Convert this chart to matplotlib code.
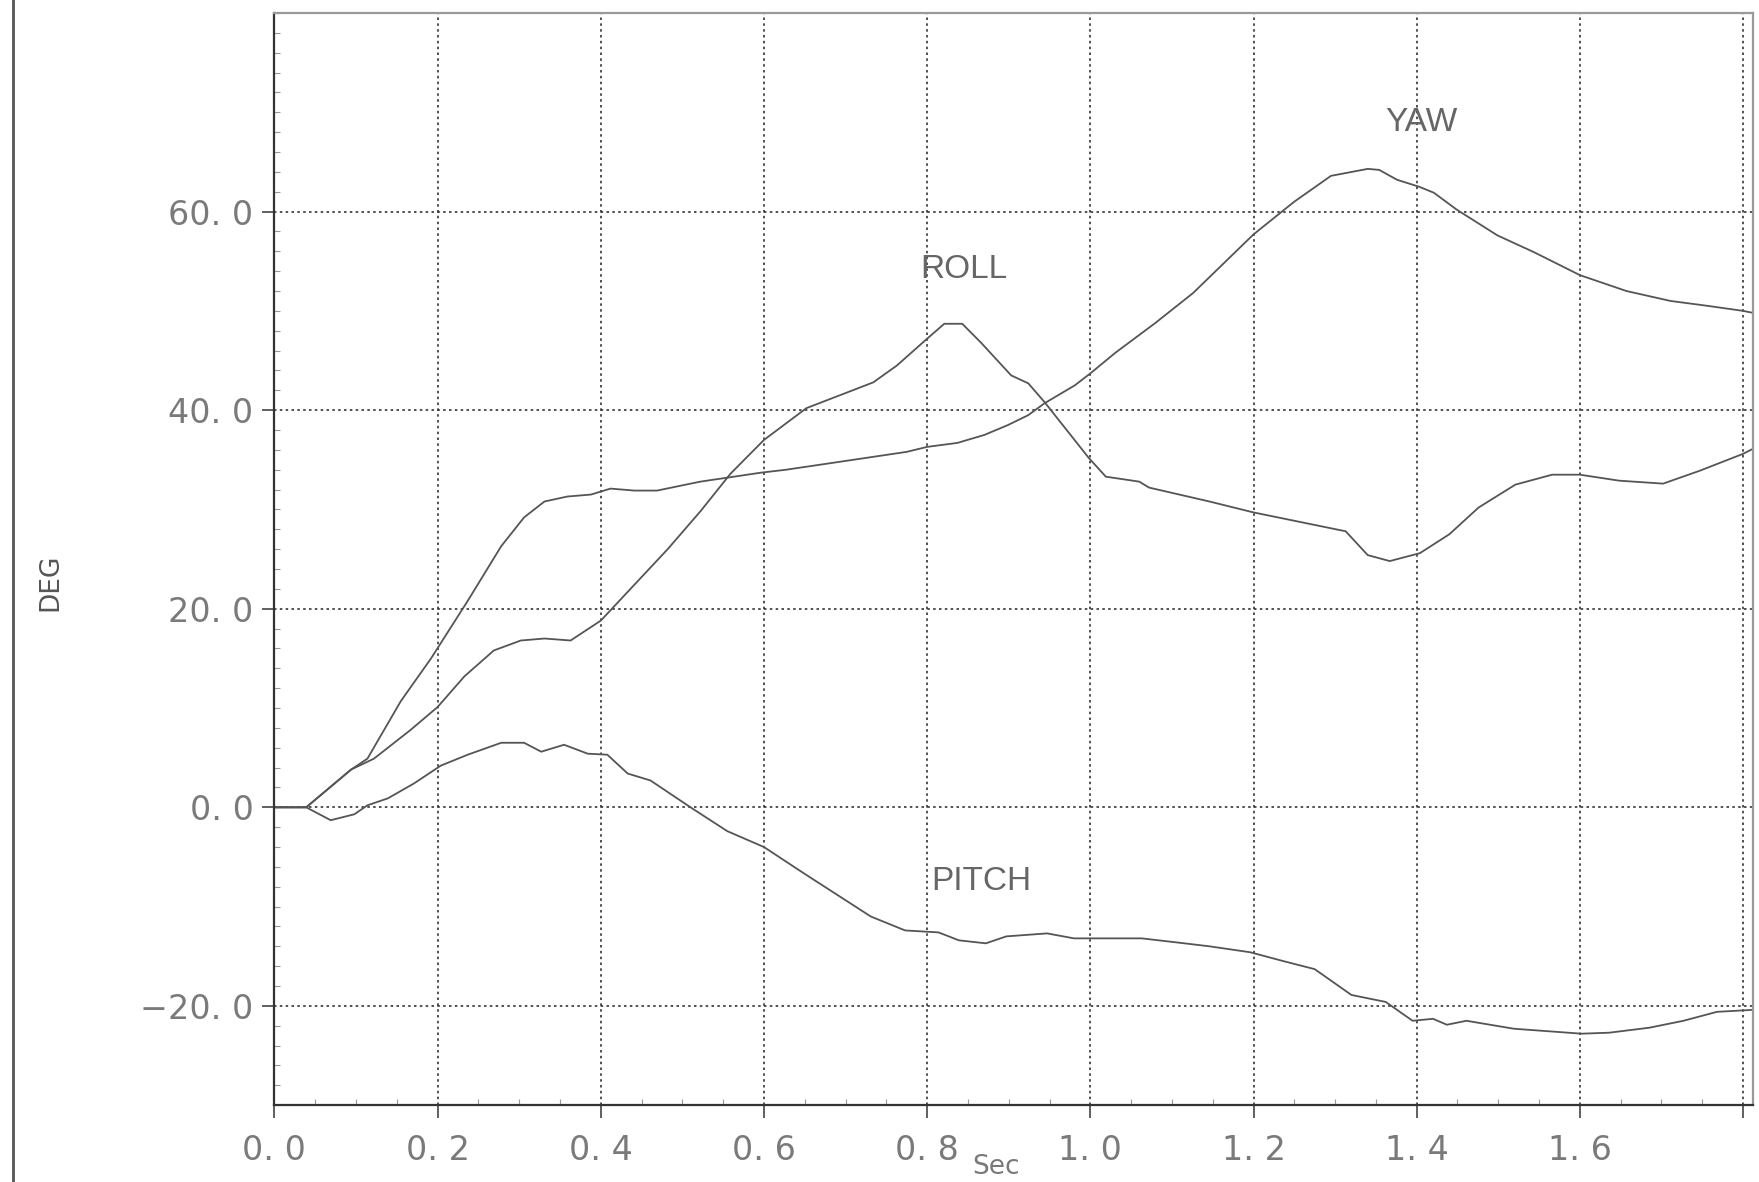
import matplotlib
matplotlib.use("Agg")
import matplotlib.pyplot as plt
from matplotlib.lines import Line2D
from matplotlib.ticker import FixedLocator, FixedFormatter, MultipleLocator

# time (s) and angle (deg)
yaw_t = [0, 0.039, 0.094, 0.114, 0.155, 0.192, 0.237, 0.278, 0.306, 0.331, 0.359, 0.388,
         0.412, 0.441, 0.469, 0.522, 0.555, 0.596, 0.627, 0.693, 0.775, 0.8, 0.837, 0.870,
         0.899, 0.924, 0.944, 0.981, 1.0, 1.031, 1.080, 1.126, 1.2, 1.25, 1.295, 1.340,
         1.354, 1.376, 1.403, 1.421, 1.449, 1.499, 1.544, 1.6, 1.657, 1.711, 1.757, 1.8, 1.812]
yaw_deg = [0, 0, 3.8, 4.9, 10.7, 15.0, 20.8, 26.3, 29.2, 30.8, 31.3, 31.5,
           32.1, 31.9, 31.9, 32.8, 33.2, 33.7, 34.0, 34.8, 35.8, 36.3, 36.7, 37.5,
           38.5, 39.5, 40.7, 42.5, 43.7, 45.8, 48.8, 51.8, 57.7, 61.0, 63.6, 64.3,
           64.2, 63.2, 62.5, 61.9, 60.2, 57.6, 55.9, 53.6, 52.0, 51.0, 50.5, 50.0, 49.8]

roll_t = [0, 0.039, 0.094, 0.122, 0.167, 0.2, 0.233, 0.269, 0.302, 0.331, 0.363, 0.4,
          0.441, 0.482, 0.522, 0.559, 0.6, 0.652, 0.693, 0.734, 0.763, 0.8, 0.821, 0.843,
          0.866, 0.903, 0.924, 0.944, 0.998, 1.019, 1.060, 1.072, 1.146, 1.2, 1.313, 1.340,
          1.367, 1.404, 1.440, 1.476, 1.521, 1.566, 1.6, 1.648, 1.702, 1.747, 1.8, 1.812]
roll_deg = [0, 0, 3.8, 4.9, 7.8, 10.1, 13.2, 15.8, 16.8, 17.0, 16.8, 18.8,
            22.4, 26.0, 29.8, 33.6, 37.0, 40.2, 41.5, 42.8, 44.5, 47.2, 48.7, 48.7,
            46.8, 43.5, 42.7, 40.8, 35.2, 33.3, 32.8, 32.2, 30.8, 29.7, 27.8, 25.4,
            24.8, 25.6, 27.5, 30.2, 32.5, 33.5, 33.5, 32.9, 32.6, 33.9, 35.6, 36.1]

pitch_t = [0, 0.039, 0.069, 0.098, 0.114, 0.139, 0.171, 0.204, 0.237, 0.278, 0.306, 0.327,
           0.355, 0.384, 0.408, 0.433, 0.461, 0.51, 0.555, 0.6, 0.648, 0.731, 0.773, 0.814,
           0.839, 0.872, 0.897, 0.947, 0.98, 1.063, 1.105, 1.146, 1.196, 1.237, 1.275, 1.32,
           1.362, 1.395, 1.42, 1.437, 1.461, 1.519, 1.602, 1.636, 1.685, 1.727, 1.768, 1.812]
pitch_deg = [0, 0, -1.3, -0.7, 0.2, 0.9, 2.4, 4.2, 5.3, 6.5, 6.5, 5.6,
             6.3, 5.4, 5.3, 3.4, 2.7, 0, -2.4, -4.0, -6.6, -11.0, -12.4, -12.6,
             -13.4, -13.7, -13.0, -12.7, -13.2, -13.2, -13.6, -14.0, -14.6, -15.5, -16.3, -18.9,
             -19.6, -21.5, -21.3, -21.9, -21.5, -22.3, -22.8, -22.7, -22.2, -21.5, -20.6, -20.4]

x_ticks = [0.0, 0.2, 0.4, 0.6, 0.8, 1.0, 1.2, 1.4, 1.6, 1.8]
x_labels = ["0. 0", "0. 2", "0. 4", "0. 6", "0. 8", "1. 0", "1. 2", "1. 4", "1. 6", ""]
y_ticks = [-20, 0, 20, 40, 60]
y_labels = ["\u221220. 0", "0. 0", "20. 0", "40. 0", "60. 0"]

curve_labels = [("YAW", 1.406, 69.0), ("ROLL", 0.845, 54.2), ("PITCH", 0.866, -7.5)]

LINE = "#555555"
TEXT = "#7a7a7a"

fig = plt.figure(figsize=(17.59, 11.82), dpi=100)
ax = fig.add_axes([0.156, 0.065, 0.8405, 0.924])

for t, v in [(yaw_t, yaw_deg), (roll_t, roll_deg), (pitch_t, pitch_deg)]:
    ax.plot(t, v, color=LINE, linewidth=1.3)

for name, x, y in curve_labels:
    ax.text(x, y, name, ha="center", va="center", fontsize=24, color="#666666",
            family="Liberation Sans")

ax.set_xlim(0, 1.812)
ax.set_ylim(-30, 80)

ax.xaxis.set_major_locator(FixedLocator(x_ticks))
ax.xaxis.set_major_formatter(FixedFormatter(x_labels))
ax.yaxis.set_major_locator(FixedLocator(y_ticks))
ax.yaxis.set_major_formatter(FixedFormatter(y_labels))
ax.yaxis.set_minor_locator(MultipleLocator(2))
ax.xaxis.set_minor_locator(MultipleLocator(0.05))

ax.tick_params(axis="both", which="major", direction="out", length=9, width=1.2,
               color="#444444", labelsize=24, labelcolor=TEXT)
ax.tick_params(axis="x", which="major", pad=12)
ax.tick_params(axis="y", which="major", pad=6)
ax.tick_params(axis="both", which="minor", direction="in", length=4, width=0.8,
               color="#999999")

ax.grid(True, which="major", linestyle=(0, (1.5, 2.0)), color="#333333", linewidth=1.2)

for side in ["left", "bottom"]:
    ax.spines[side].set_color("#333333")
    ax.spines[side].set_linewidth(1.6)
for side in ["top", "right"]:
    ax.spines[side].set_color("#9a9a9a")
    ax.spines[side].set_linewidth(1.6)

fig.text(0.5662, 0.0125, "Sec", ha="center", va="center", fontsize=19, color=TEXT)
fig.text(0.0285, 0.507, "DEG", ha="center", va="center", fontsize=19, color="#555555",
         rotation=90)

# border line from the scanned page
fig.add_artist(Line2D([0.0075, 0.0075], [0.0, 1.0], transform=fig.transFigure,
                      color="#555555", linewidth=2))

fig.savefig("out.png", dpi=100)
